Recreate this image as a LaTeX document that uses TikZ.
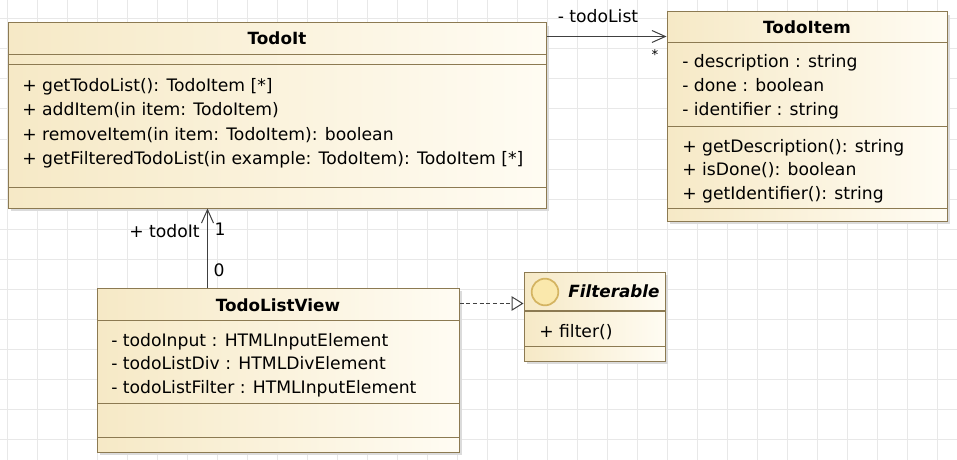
\documentclass[tikz,border=0pt]{standalone}
\usepackage{fontspec}
\setmainfont{DejaVu Sans}
\usepackage{tikz}
\usetikzlibrary{fit,shadows,arrows.meta}
\definecolor{umlborder}{RGB}{140,122,82}
\definecolor{umlleft}{RGB}{246,233,198}
\definecolor{umlright}{RGB}{255,252,243}
\definecolor{gridcol}{RGB}{232,232,232}
\definecolor{linkcol}{RGB}{64,64,64}
\definecolor{iconfill}{RGB}{250,232,172}
\definecolor{iconborder}{RGB}{212,180,98}

\begin{document}
\begin{tikzpicture}[x=0.75pt,y=-0.75pt,font=\fontsize{12.9}{15}\selectfont]
\tikzstyle{classbox}=[rectangle,draw=umlborder,line width=0.75pt,left color=umlleft,right color=umlright,inner sep=0pt,drop shadow={shadow xshift=2pt,shadow yshift=-2pt,fill=black!14,opacity=1}]
\tikzstyle{sep}=[draw=umlborder,line width=0.75pt]
\tikzstyle{member}=[anchor=base west,inner sep=0pt]
\tikzstyle{classname}=[anchor=base,inner sep=0pt,font=\fontsize{12.6}{15}\selectfont\bfseries]
\tikzstyle{tag}=[anchor=base,inner sep=0pt]
\tikzstyle{assoc}=[draw=linkcol,line width=0.75pt,-{Straight Barb[length=10pt,width=9pt]}]
\tikzstyle{realize}=[draw=linkcol,line width=0.75pt,dash pattern=on 3pt off 2pt,-{Triangle[open,length=9pt,width=11pt,fill=white]}]
\useasboundingbox (0,0) rectangle (957,460);
\fill[white] (0,0) rectangle (957,460);
% background grid
\foreach \gx in {7,37,...,957} \draw[gridcol,line width=0.75pt] (\gx,0) -- (\gx,460);
\foreach \gy in {19,49,...,460} \draw[gridcol,line width=0.75pt] (0,\gy) -- (957,\gy);

% TodoIt
\node [classbox,fit={(8,23) (546,208)}] (todoit) {};
\node [classname] (todoit-name) at (277,45) {TodoIt};
\draw [sep] (8,55) -- (546,55);
\draw [sep] (8,65) -- (546,65);
\node [member] (todoit-m1) at (22,92) {+ getTodoList(): TodoItem [*]};
\node [member] (todoit-m2) at (22,116) {+ addItem(in item: TodoItem)};
\node [member] (todoit-m3) at (22,140) {+ removeItem(in item: TodoItem): boolean};
\node [member] (todoit-m4) at (22,164) {+ getFilteredTodoList(in example: TodoItem): TodoItem [*]};
\draw [sep] (8,187) -- (546,187);

% TodoItem
\node [classbox,fit={(667,12) (947,221)}] (todoitem) {};
\node [classname] (todoitem-name) at (807,34) {TodoItem};
\draw [sep] (667,43) -- (947,43);
\node [member] (todoitem-a1) at (682,68) {- description : string};
\node [member] (todoitem-a2) at (682,92) {- done : boolean};
\node [member] (todoitem-a3) at (682,116) {- identifier : string};
\draw [sep] (667,126) -- (947,126);
\node [member] (todoitem-m1) at (682,152) {+ getDescription(): string};
\node [member] (todoitem-m2) at (682,175) {+ isDone(): boolean};
\node [member] (todoitem-m3) at (682,199) {+ getIdentifier(): string};
\draw [sep] (667,208) -- (947,208);

% TodoListView
\node [classbox,fit={(97,288) (459,452)}] (todolistview) {};
\node [classname] (todolistview-name) at (278,311) {TodoListView};
\draw [sep] (97,320) -- (459,320);
\node [member] (todolistview-a1) at (111,346) {- todoInput : HTMLInputElement};
\node [member] (todolistview-a2) at (111,369) {- todoListDiv : HTMLDivElement};
\node [member] (todolistview-a3) at (111,393) {- todoListFilter : HTMLInputElement};
\draw [sep] (97,403) -- (459,403);
\draw [sep] (97,437) -- (459,437);

% Filterable
\node [classbox,fit={(524,272) (665,361)}] (filterable) {};
\node [circle,draw=iconborder,fill=iconfill,line width=1.3pt,minimum size=20pt,inner sep=0pt] (filterable-icon) at (545,292) {};
\node [classname,font=\fontsize{12.6}{15}\selectfont\bfseries\itshape] (filterable-name) at (614,297) {Filterable};
\draw [sep,line width=1.5pt] (524,311) -- (665,311);
\node [member] (filterable-m1) at (539,337) {+ filter()};
\draw [sep] (524,346) -- (665,346);

% connectors
\draw [assoc] ([yshift=-10.5pt]todoit.north east) coordinate (todolist-end) -- (todolist-end -| todoitem.west);
\node [tag] (todolist-role) at (598,23) {- todoList};
\node [tag,font=\fontsize{10}{12}\selectfont] (todolist-mult) at (655,60) {*};
\draw [assoc] ([xshift=83.25pt]todolistview.north west) coordinate (todoit-end) -- (todoit-end |- todoit.south);
\node [tag,anchor=base east] (todoit-role) at (200,237) {+ todoIt};
\node [tag] (todoit-mult) at (220,235) {1};
\node [tag] (todolistview-mult) at (219,276) {0};
\draw [realize] ([yshift=-12pt]todolistview.north east) coordinate (filter-end) -- (filter-end -| filterable.west);
\end{tikzpicture}
\end{document}
